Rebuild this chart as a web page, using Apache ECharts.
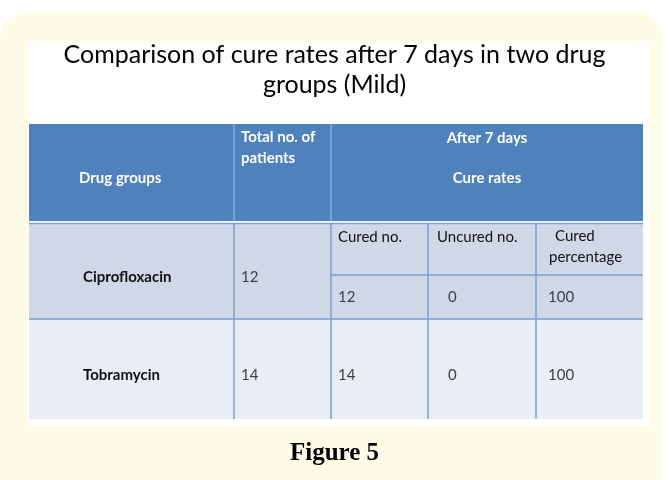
<!DOCTYPE html>
<html><head><meta charset="utf-8">
<script src="https://cdn.jsdelivr.net/npm/echarts@6/dist/echarts.min.js"></script>
<style>html,body{margin:0;padding:0;background:#fff;}#c{width:669px;height:480px;}</style>
</head><body><div id="c"></div>
<script>
// ---- data ----
const drugs = ['Ciprofloxacin', 'Tobramycin'];
const totalPatients = [12, 14];
const curedNo = [12, 14];
const uncuredNo = [0, 0];
const curedPct = [100, 100];
const headerLabels = ['Drug groups', 'Total no. of\npatients', 'After 7 days', 'Cure rates'];
const subHeaders = ['Cured no.', 'Uncured no.', 'Cured\npercentage'];
const titleText = 'Comparison of cure rates after 7 days in two drug\ngroups (Mild)';
const captionText = 'Figure 5';

// ---- layout (table units) ----
const colEdges = [0, 205, 302, 399, 507, 614];
const rowEdges = { headTop: 0, headBot: 97, r1Top: 99, r1Mid: 151, r1Bot: 195, r2Bot: 295 };
const HEAD = '#4F81BD', ROW1 = '#D0D8E8', ROW2 = '#E9EDF4', LINE = '#7BA0CD';
const FONT = 'Lato, "Open Sans", sans-serif';

const cells = [];
function cell(c0, c1, r0, r1, fill, texts) { cells.push({ value: [colEdges[c0], colEdges[c1], r0, r1], fill, texts }); }
const R = rowEdges;
const hb = { fill: '#fff', bold: true };
cell(0, 1, R.headTop, R.headBot, HEAD, [{ t: headerLabels[0], dx: 50, dy: 54, ...hb }]);
cell(1, 2, R.headTop, R.headBot, HEAD, [{ t: headerLabels[1], dx: 7, dy: 12, lh: 21, ...hb }]);
cell(2, 5, R.headTop, R.headBot, HEAD, [{ t: headerLabels[2], dx: 'c', dy: 14, ...hb }, { t: headerLabels[3], dx: 'c', dy: 54, ...hb }]);
const nameStyle = { fill: '#111', bold: true };
const numStyle = { fill: '#404040', bold: false };
const lblStyle = { fill: '#111', bold: false };
// row 1
cell(0, 1, R.r1Top, R.r1Bot, ROW1, [{ t: drugs[0], dx: 54, dy: 54, ...nameStyle }]);
cell(1, 2, R.r1Top, R.r1Bot, ROW1, [{ t: String(totalPatients[0]), dx: 7, dy: 54, ...numStyle }]);
cell(2, 3, R.r1Top, R.r1Mid, ROW1, [{ t: subHeaders[0], dx: 7, dy: 14, ...lblStyle }]);
cell(3, 4, R.r1Top, R.r1Mid, ROW1, [{ t: subHeaders[1], dx: 9, dy: 14, ...lblStyle }]);
cell(4, 5, R.r1Top, R.r1Mid, ROW1, [{ t: subHeaders[2].split('\n')[0], dx: 19, dy: 13, ...lblStyle }, { t: subHeaders[2].split('\n')[1], dx: 13, dy: 34, ...lblStyle }]);
cell(2, 3, R.r1Mid, R.r1Bot, ROW1, [{ t: String(curedNo[0]), dx: 7, dy: 22, ...numStyle }]);
cell(3, 4, R.r1Mid, R.r1Bot, ROW1, [{ t: String(uncuredNo[0]), dx: 20, dy: 22, ...numStyle }]);
cell(4, 5, R.r1Mid, R.r1Bot, ROW1, [{ t: String(curedPct[0]), dx: 12, dy: 22, ...numStyle }]);
// row 2
cell(0, 1, R.r1Bot, R.r2Bot, ROW2, [{ t: drugs[1], dx: 54, dy: 56, ...nameStyle }]);
cell(1, 2, R.r1Bot, R.r2Bot, ROW2, [{ t: String(totalPatients[1]), dx: 7, dy: 56, ...numStyle }]);
cell(2, 3, R.r1Bot, R.r2Bot, ROW2, [{ t: String(curedNo[1]), dx: 7, dy: 56, ...numStyle }]);
cell(3, 4, R.r1Bot, R.r2Bot, ROW2, [{ t: String(uncuredNo[1]), dx: 20, dy: 56, ...numStyle }]);
cell(4, 5, R.r1Bot, R.r2Bot, ROW2, [{ t: String(curedPct[1]), dx: 12, dy: 56, ...numStyle }]);

// grid lines [x0,y0,x1,y1,color,width]
const lines = [
  [colEdges[1], R.headTop, colEdges[1], R.headBot, '#9DB7DA', 1.2],
  [colEdges[2], R.headTop, colEdges[2], R.headBot, '#9DB7DA', 1.2],
  [colEdges[0], R.r1Top + 0.5, colEdges[5], R.r1Top + 0.5, LINE, 1.5],
  [colEdges[2], R.r1Mid, colEdges[5], R.r1Mid, LINE, 1.5],
  [colEdges[0], R.r1Bot, colEdges[5], R.r1Bot, LINE, 1.5],
  [colEdges[1], R.r1Top, colEdges[1], R.r2Bot, LINE, 1.5],
  [colEdges[2], R.r1Top, colEdges[2], R.r2Bot, LINE, 1.5],
  [colEdges[3], R.r1Top, colEdges[3], R.r2Bot, LINE, 1.5],
  [colEdges[4], R.r1Top, colEdges[4], R.r2Bot, LINE, 1.5]
];

const chart = echarts.init(document.getElementById('c'), null, { renderer: 'canvas' });
chart.setOption({
  backgroundColor: '#fff',
  animation: false,
  graphic: [
    { type: 'rect', z: -10, shape: { x: 0, y: 12, width: 662, height: 500, r: 26 }, style: { fill: '#FEFBE7' } },
    { type: 'rect', z: -9, shape: { x: 28, y: 41, width: 621, height: 385 }, style: { fill: '#fff' } },
    { type: 'text', z: 5, left: 'center', top: 441, style: { text: captionText, font: 'bold 25px "Liberation Serif", serif', fill: '#000' } }
  ],
  title: {
    text: titleText, left: 'center', top: 35,
    textStyle: { fontFamily: FONT, fontSize: 25, fontWeight: 'normal', color: '#000', lineHeight: 30 }
  },
  grid: { left: 29, top: 124, width: 614, height: 295 },
  xAxis: { type: 'value', min: 0, max: 614, show: false },
  yAxis: { type: 'value', min: 0, max: 295, inverse: true, show: false },
  series: [
    {
      type: 'custom', data: cells, z: 2,
      renderItem: function (params, api) {
        const c = cells[params.dataIndex];
        const p0 = api.coord([api.value(0), api.value(2)]);
        const p1 = api.coord([api.value(1), api.value(3)]);
        const children = [{ type: 'rect', shape: { x: p0[0], y: p0[1], width: p1[0] - p0[0], height: p1[1] - p0[1] }, style: { fill: c.fill } }];
        c.texts.forEach(function (t) {
          const centered = t.dx === 'c';
          children.push({
            type: 'text', z2: 10,
            style: {
              text: t.t, x: centered ? (p0[0] + p1[0]) / 2 : p0[0] + t.dx, y: p0[1] + t.dy,
              textAlign: centered ? 'center' : 'left', textVerticalAlign: t.lh ? 'top' : 'middle',
              verticalAlign: t.lh ? 'top' : 'middle',
              font: (t.bold ? 'bold ' : '') + '15px ' + FONT, lineHeight: t.lh || 18, fill: t.fill
            },
            position: [0, t.lh ? -9 : 0]
          });
        });
        return { type: 'group', children: children };
      }
    },
    {
      type: 'custom', data: lines.map(function (l) { return l.slice(0, 4); }), z: 3,
      renderItem: function (params, api) {
        const l = lines[params.dataIndex];
        const a = api.coord([api.value(0), api.value(1)]);
        const b = api.coord([api.value(2), api.value(3)]);
        return { type: 'line', shape: { x1: a[0], y1: a[1], x2: b[0], y2: b[1] }, style: { stroke: l[4], lineWidth: l[5] } };
      }
    }
  ]
});
</script></body></html>
